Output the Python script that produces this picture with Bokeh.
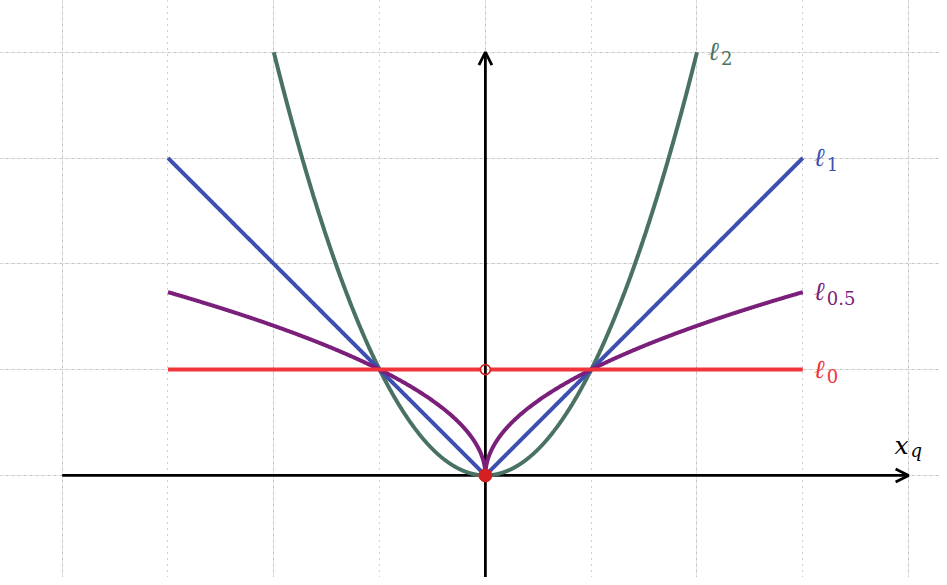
import numpy as np
from bokeh.plotting import figure
from bokeh.models import Grid, FixedTicker, Arrow, OpenHead, Range1d
from bokeh.core.properties import value
from bokeh.embed import file_html
from bokeh.resources import INLINE

# ---- data ----
norm_orders = [2, 1, 0.5, 0]
norm_subscripts = ["2", "1", "0.5", "0"]
norm_x_limits = [2, 3, 3, 3]
norm_colors = ["#4a7262", "#3e4fb2", "#7a1f7a", "#f0353b"]
grid_x_ticks = [-4, -3, -2, -1, 0, 1, 2, 3, 4]
grid_y_ticks = [-1, 0, 1, 2, 3, 4]
x_axis_extent = [-4, 4]
y_axis_extent = [-1, 4]
axis_label = "x"
axis_label_sub = "q"
origin_point = (0, 0)
l0_open_point = (0, 1)

FONT = value("DejaVu Serif")

p = figure(width=939, height=577, output_backend="svg", toolbar_location=None,
           x_axis_location=None, y_axis_location=None, min_border=0,
           x_range=Range1d(-4.583, 4.292), y_range=Range1d(-0.965, 4.4887))
p.outline_line_color = None
p.background_fill_color = "white"

# dotted grid
for dim, ticks in ((0, grid_x_ticks), (1, grid_y_ticks)):
    p.add_layout(Grid(dimension=dim, ticker=FixedTicker(ticks=ticks), grid_line_color="#a0a0a0",
                      grid_line_dash="1 5", grid_line_width=1.0, level="underlay"))

# axis lines
p.segment(x0=[x_axis_extent[0], 0], y0=[0, y_axis_extent[0]],
          x1=[x_axis_extent[1], 0], y1=[0, y_axis_extent[1]],
          line_color="black", line_width=2.8)

# arrow heads
p.add_layout(Arrow(x_start=x_axis_extent[0], y_start=0, x_end=x_axis_extent[1], y_end=0,
                   line_alpha=0, end=OpenHead(size=13, line_width=2.8, line_color="black")))
p.add_layout(Arrow(x_start=0, y_start=y_axis_extent[0], x_end=0, y_end=y_axis_extent[1],
                   line_alpha=0, end=OpenHead(size=13, line_width=2.8, line_color="black")))

gap = 5.0 / 105.8
for order, sub, lim, col in zip(norm_orders, norm_subscripts, norm_x_limits, norm_colors):
    if order == 0:
        xs = np.array([-lim, -gap, np.nan, gap, lim])
        ys = np.where(np.isnan(xs), np.nan, 1.0)
    else:
        t = np.linspace(0, 1, 800) ** 3
        xr = lim * t
        xs = np.concatenate([-xr[::-1], xr[1:]])
        ys = np.abs(xs) ** order
    p.line(xs, ys, line_color=col, line_width=4.0)
    y_end = float(lim ** order)
    p.text(x=[lim], y=[y_end], text=["ℓ"], text_font=FONT, text_font_style="italic",
           text_font_size="26px", text_color=col, text_baseline="alphabetic",
           text_align="left", x_offset=11, y_offset=-1)
    p.text(x=[lim], y=[y_end], text=[sub], text_font=FONT,
           text_font_size="18px", text_color=col, text_baseline="alphabetic",
           text_align="left", x_offset=24, y_offset=6)

# points at the origin
p.scatter(x=[l0_open_point[0]], y=[l0_open_point[1]], size=10, marker="circle",
          fill_color=None, line_color="#d42020", line_width=1.6)
p.scatter(x=[origin_point[0]], y=[origin_point[1]], size=13, marker="circle",
          fill_color="#d42020", line_color="#d42020")

# axis label x_q
p.text(x=[x_axis_extent[1]], y=[0], text=[axis_label], text_font=FONT, text_font_style="italic",
       text_font_size="25px", text_color="black", text_baseline="alphabetic",
       text_align="left", x_offset=-14, y_offset=-30)
p.text(x=[x_axis_extent[1]], y=[0], text=[axis_label_sub], text_font=FONT, text_font_style="italic",
       text_font_size="18px", text_color="black", text_baseline="alphabetic",
       text_align="left", x_offset=2, y_offset=-25)

open("out.html", "w").write(file_html(p, INLINE))
